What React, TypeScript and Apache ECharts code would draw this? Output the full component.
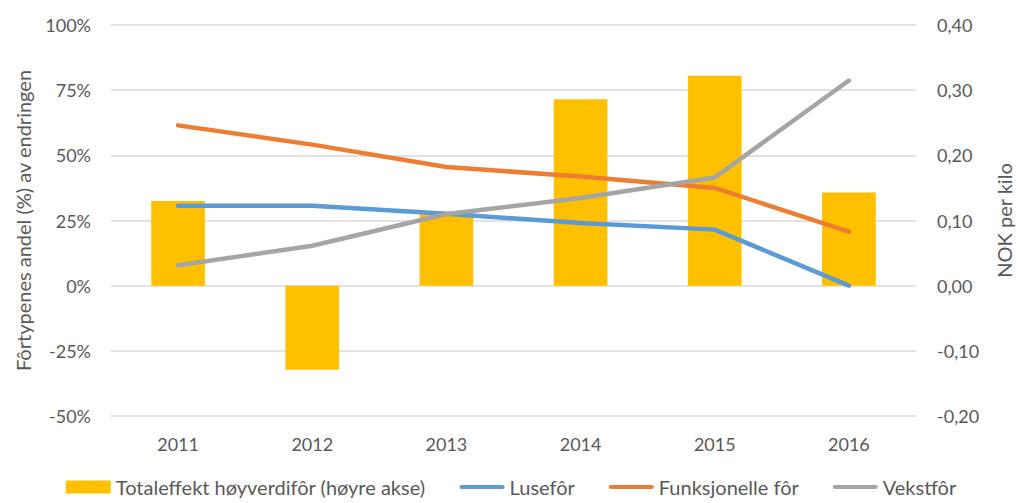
import React, { useEffect, useRef } from "react";
import * as echarts from "echarts";

const years = ["2011", "2012", "2013", "2014", "2015", "2016"];
const totaleffekt = [0.13, -0.129, 0.112, 0.286, 0.322, 0.143];
const lusefor = [30.7, 30.7, 27.6, 24.0, 21.5, 0];
const funksjonelle = [61.5, 54.1, 45.5, 41.9, 37.5, 20.7];
const vekstfor = [7.8, 15.3, 27.5, 33.6, 41.5, 78.7];

const FONT = "Lato, 'Open Sans', sans-serif";
const TXT = "#595959";
const LINE_ICON = "path://M2,0 L43,0 A2,2 0 0 1 43,4 L2,4 A2,2 0 0 1 2,0 Z";

export default function App() {
  const ref = useRef<HTMLDivElement>(null);
  useEffect(() => {
    if (!ref.current) return;
    const chart = echarts.init(ref.current, undefined, { renderer: "svg" });
    const lineSeries = (name: string, data: number[], color: string) => ({
      name,
      type: "line",
      yAxisIndex: 0,
      data,
      symbol: "none",
      z: 3,
      lineStyle: { color, width: 4.5, cap: "round", join: "round" },
      itemStyle: { color },
    });
    chart.setOption({
      animation: false,
      textStyle: { fontFamily: FONT },
      grid: { left: 111, right: 101, top: 25, bottom: 87 },
      legend: {
        bottom: 1,
        left: "center",
        itemGap: 34,
        itemWidth: 45,
        itemHeight: 13,
        symbolKeepAspect: true,
        textStyle: { color: TXT, fontSize: 20, fontFamily: FONT },
        data: [
          { name: "Totaleffekt høyverdifôr (høyre akse)", icon: "rect" },
          { name: "Lusefôr", icon: LINE_ICON },
          { name: "Funksjonelle fôr", icon: LINE_ICON },
          { name: "Vekstfôr", icon: LINE_ICON },
        ],
      },
      xAxis: {
        type: "category",
        data: years,
        axisLine: { show: false },
        axisTick: { show: false },
        axisLabel: { color: TXT, fontSize: 18, margin: 19 },
      },
      yAxis: [
        {
          type: "value",
          min: -50,
          max: 100,
          interval: 25,
          name: "Fôrtypenes andel (%) av endringen",
          nameLocation: "middle",
          nameGap: 78,
          nameTextStyle: { color: TXT, fontSize: 20 },
          axisLabel: { color: TXT, fontSize: 18, margin: 20, formatter: (v: number) => v + "%" },
          splitLine: { lineStyle: { color: "#D9D9D9", width: 1.5 } },
          axisLine: { show: false },
          axisTick: { show: false },
        },
        {
          type: "value",
          min: -0.2,
          max: 0.4,
          interval: 0.1,
          position: "right",
          name: "NOK per kilo",
          nameLocation: "middle",
          nameGap: 78,
          nameRotate: 90,
          nameTextStyle: { color: TXT, fontSize: 20 },
          axisLabel: {
            color: TXT,
            fontSize: 18,
            margin: 21,
            formatter: (v: number) => v.toFixed(2).replace(".", ","),
          },
          splitLine: { show: false },
          axisLine: { show: false },
          axisTick: { show: false },
        },
      ],
      series: [
        {
          name: "Totaleffekt høyverdifôr (høyre akse)",
          type: "bar",
          yAxisIndex: 1,
          data: totaleffekt,
          barWidth: "40%",
          itemStyle: { color: "#FFC000" },
          z: 2,
        },
        lineSeries("Lusefôr", lusefor, "#5B9BD5"),
        lineSeries("Funksjonelle fôr", funksjonelle, "#ED7D31"),
        lineSeries("Vekstfôr", vekstfor, "#A5A5A5"),
      ],
    });
    return () => chart.dispose();
  }, []);
  return <div ref={ref} style={{ width: 1022, height: 503, position: "absolute", left: 0, top: 0 }} />;
}
